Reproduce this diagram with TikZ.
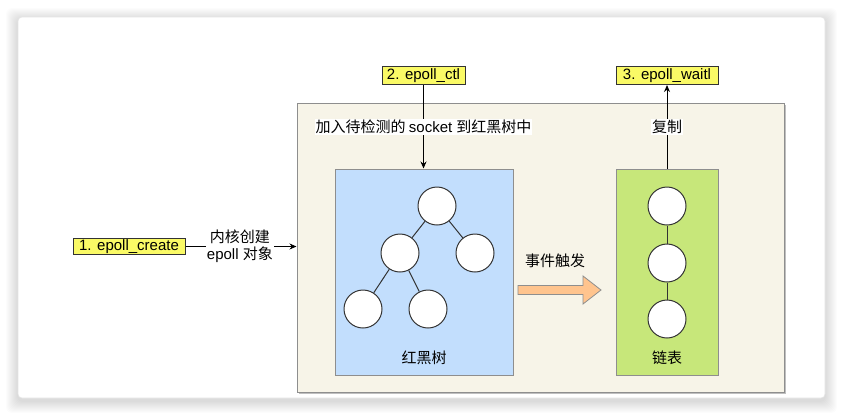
\documentclass[tikz,border=0pt]{standalone}
\usepackage{fontspec}
\setmainfont{Liberation Sans}
\newfontfamily\cjk{Noto Sans CJK SC}
\usetikzlibrary{arrows.meta}
\definecolor{beige}{HTML}{F7F4E8}
\definecolor{panelline}{HTML}{8E8E8E}
\definecolor{rbblue}{HTML}{C2DEFD}
\definecolor{lsgreen}{HTML}{C7E77A}
\definecolor{noteyellow}{HTML}{FAFA66}
\definecolor{arrowfill}{HTML}{FFC48E}
\definecolor{darkline}{HTML}{333333}
\tikzset{
  basefont/.style={font=\fontsize{15bp}{17bp}\selectfont},
  panel/.style={draw=panelline, fill=beige, line width=1bp, inner sep=0},
  inbox/.style={draw=panelline, line width=1bp, inner sep=0},
  callbox/.style={draw=darkline, fill=noteyellow, line width=1bp, inner sep=0, minimum height=18bp},
  ball/.style={circle, draw=darkline, fill=white, line width=1bp, minimum size=38bp, inner sep=0},
  link/.style={draw=darkline, line width=1bp},
  conn/.style={draw=black, line width=1bp, -{Stealth[length=7bp,width=6bp]}},
  edgelabel/.style={fill=white, inner sep=1bp, align=center}
}
\begin{document}
\begin{tikzpicture}[x=1bp, y=-1bp, basefont]
\useasboundingbox (0,0) rectangle (843,416);
\fill[white] (0,0) rectangle (843,416);
% card shadow
\foreach \i in {1,...,12} {
  \fill[black, opacity=0.010, rounded corners=6bp] (18-\i,17-\i+3) rectangle (825+\i,398+\i+3);
}
\draw[black!10, fill=white, line width=0.6bp, rounded corners=4bp] (18,17) rectangle (825,398);

% kernel panel with slight shadow
\fill[black!25] (299,105) rectangle (786,394);
\node[panel, minimum width=487bp, minimum height=289bp] (kernel) at (540.5,247.5) {};

% red-black tree box and list box
\node[inbox, fill=rbblue, minimum width=178bp, minimum height=206bp] (rbt) at (424,272) {};
\node[inbox, fill=lsgreen, minimum width=102bp, minimum height=206bp] (lst) at (667,272) {};
\node (rbtlabel) at (424,358) {\cjk 红黑树};
\node (lstlabel) at (667,358) {\cjk 链表};

% tree
\node[ball] (t0) at (437,206) {};
\node[ball] (t1) at (400,253) {};
\node[ball] (t2) at (475,253) {};
\node[ball] (t3) at (363,309) {};
\node[ball] (t4) at (428,309) {};
\draw[link] (t0) -- (t1);
\draw[link] (t0) -- (t2);
\draw[link] (t1) -- (t3);
\draw[link] (t1) -- (t4);

% list
\node[ball] (l0) at (667,206) {};
\node[ball] (l1) at (667,263) {};
\node[ball] (l2) at (667,319) {};
\draw[link] (l0) -- (l1);
\draw[link] (l1) -- (l2);

% event arrow
\draw[draw=panelline, fill=arrowfill, line width=0.8bp]
  (518,285.5) -- (583,285.5) -- (583,276) -- (601,290) -- (583,304) -- (583,294.5) -- (518,294.5) -- cycle;
\node (evlabel) at (555,261) {\cjk 事件触发};

% call boxes
\node[callbox, minimum width=112bp, minimum height=16bp] (create) at (129,246.5) {1. epoll\_create};
\node[callbox, minimum width=83bp] (ctl) at (423.5,75.5) {2. epoll\_ctl};
\node[callbox, minimum width=102bp] (wait) at (667,75.5) {3. epoll\_waitl};

% connectors
\draw[conn] (create.east) -- (kernel.west |- create.east)
  node[edgelabel, pos=0.49] {\cjk 内核创建\\epoll \cjk 对象};
\draw[conn] (ctl.south) -- (ctl.south |- rbt.north)
  node[edgelabel, midway] {\cjk 加入待检测的 \rmfamily socket \cjk 到红黑树中};
\draw[conn] (lst.north) -- (wait.south)
  node[edgelabel, midway] {\cjk 复制};
\end{tikzpicture}
\end{document}
